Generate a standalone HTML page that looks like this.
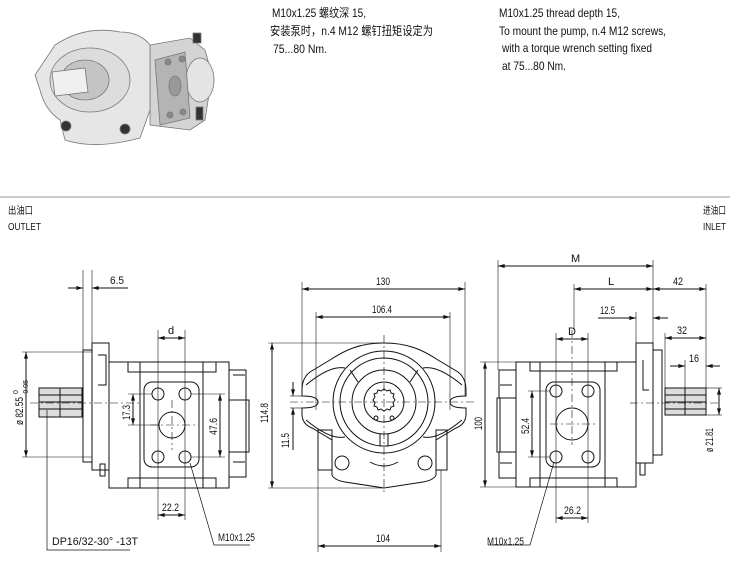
<!DOCTYPE html>
<html><head><meta charset="utf-8"><style>
html,body{margin:0;padding:0;background:#fff;}
svg{display:block;}
text{font-family:"Liberation Sans","Noto Sans CJK SC",sans-serif;fill:#111;}
</style></head><body>
<svg width="730" height="569" viewBox="0 0 730 569" xmlns="http://www.w3.org/2000/svg">
<defs>
<marker id="a" viewBox="0 0 10 6" refX="10" refY="3" markerWidth="8" markerHeight="4" orient="auto-start-reverse"><path d="M0,0 L10,3 L0,6z" fill="#111"/></marker>
</defs>

<!-- 3D pump image (approximation) -->
<g stroke="#777" stroke-width="0.8">
<path d="M150,45 L190,38 L205,50 L212,75 L205,120 L190,130 L150,125z" fill="#d4d4d4"/>
<ellipse cx="200" cy="80" rx="14" ry="22" fill="#e4e4e4"/>
<path d="M120,32 Q85,25 55,45 L35,75 L40,90 Q45,110 60,120 L65,140 Q95,150 140,138 L150,110 L150,45 Q140,32 120,32z" fill="#e6e6e6"/>
<ellipse cx="90" cy="80" rx="40" ry="32" fill="#dcdcdc"/>
<ellipse cx="85" cy="80" rx="24" ry="20" fill="#c4c4c4"/>
<path d="M52,72 L85,68 L88,92 L55,96z" fill="#f0f0f0"/>
<path d="M155,60 L185,52 L190,118 L160,125z" fill="#b4b4b4"/>
<circle cx="168" cy="62" r="3" fill="#888"/><circle cx="182" cy="59" r="3" fill="#888"/>
<circle cx="170" cy="115" r="3" fill="#888"/><circle cx="183" cy="112" r="3" fill="#888"/>
<ellipse cx="175" cy="86" rx="6" ry="10" fill="#999"/>
<circle cx="66" cy="126" r="5" fill="#333"/><circle cx="125" cy="129" r="5" fill="#333"/>
<rect x="193" y="33" width="8" height="10" fill="#333"/><rect x="196" y="107" width="7" height="13" fill="#333"/>
</g>

<!-- Top texts -->
<g font-size="12">
<text x="272" y="17" textLength="94" lengthAdjust="spacingAndGlyphs">M10x1.25 螺纹深 15,</text>
<text x="270" y="35" textLength="163" lengthAdjust="spacingAndGlyphs">安装泵时，n.4 M12 螺钉扭矩设定为</text>
<text x="273" y="53" textLength="54" lengthAdjust="spacingAndGlyphs">75...80 Nm.</text>
<text x="499" y="17" textLength="121" lengthAdjust="spacingAndGlyphs">M10x1.25 thread depth 15,</text>
<text x="499" y="35" textLength="167" lengthAdjust="spacingAndGlyphs">To mount the pump, n.4 M12 screws,</text>
<text x="502" y="52" textLength="150" lengthAdjust="spacingAndGlyphs">with a torque wrench setting fixed</text>
<text x="502" y="70" textLength="64" lengthAdjust="spacingAndGlyphs">at 75...80 Nm.</text>
</g>
<line x1="0" y1="197" x2="730" y2="197" stroke="#999" stroke-width="1"/>
<g font-size="10">
<text x="8" y="214" textLength="25" lengthAdjust="spacingAndGlyphs">出油口</text>
<text x="8" y="230" textLength="33" lengthAdjust="spacingAndGlyphs">OUTLET</text>
<text x="703" y="214" textLength="23" lengthAdjust="spacingAndGlyphs">进油口</text>
<text x="703" y="230" textLength="23" lengthAdjust="spacingAndGlyphs">INLET</text>
</g>

<g fill="none" stroke="#111" stroke-width="1">
<!-- ===== LEFT VIEW ===== -->
<rect x="92" y="343" width="17" height="127"/>
<rect x="83" y="350" width="9" height="112"/>
<path d="M98,355 h8 v30 h-8"/>
<rect x="109" y="362" width="120" height="126"/>
<rect x="128" y="362" width="88" height="10"/><rect x="128" y="478" width="88" height="10"/>
<line x1="140" y1="362" x2="140" y2="488"/><line x1="203" y1="362" x2="203" y2="488"/>
<rect x="100" y="464" width="5" height="12"/>
<rect x="39" y="388" width="43" height="29" fill="#ddd"/>
<line x1="39" y1="395" x2="82" y2="395"/><line x1="39" y1="402" x2="82" y2="402"/><line x1="39" y1="409" x2="82" y2="409"/>
<line x1="60" y1="388" x2="60" y2="417"/>
<rect x="144" y="382" width="55" height="85" rx="8"/>
<circle cx="158" cy="394" r="6"/><circle cx="185" cy="394" r="6"/>
<circle cx="158" cy="457" r="6"/><circle cx="185" cy="457" r="6"/>
<circle cx="172" cy="425" r="13"/>
<rect x="229" y="370" width="17" height="30"/><rect x="229" y="452" width="17" height="25"/>
<rect x="246" y="400" width="3" height="52"/>
<line x1="233" y1="375" x2="245" y2="375"/><line x1="233" y1="462" x2="245" y2="462"/>
<g stroke-dasharray="8,3,2,3" stroke-width="0.6">
<line x1="30" y1="403" x2="140" y2="403"/>
<line x1="150" y1="425" x2="195" y2="425"/><line x1="172" y1="400" x2="172" y2="450"/>
</g>
<line x1="83" y1="270" x2="83" y2="350" stroke-width="0.6"/><line x1="92" y1="270" x2="92" y2="343" stroke-width="0.6"/>
<line x1="68" y1="288" x2="83" y2="288" marker-end="url(#a)"/><line x1="128" y1="288" x2="92" y2="288" marker-end="url(#a)"/>
<line x1="22" y1="352" x2="92" y2="352" stroke-width="0.6"/><line x1="22" y1="457" x2="92" y2="457" stroke-width="0.6"/>
<line x1="26" y1="352" x2="26" y2="457" marker-start="url(#a)" marker-end="url(#a)"/>
<line x1="158" y1="330" x2="158" y2="520" stroke-width="0.6"/><line x1="185" y1="330" x2="185" y2="520" stroke-width="0.6"/>
<line x1="158" y1="338" x2="185" y2="338" marker-start="url(#a)" marker-end="url(#a)"/>
<line x1="158" y1="515" x2="185" y2="515" marker-start="url(#a)" marker-end="url(#a)"/>
<line x1="128" y1="394" x2="152" y2="394" stroke-width="0.6"/><line x1="128" y1="425" x2="159" y2="425" stroke-width="0.6"/>
<line x1="133" y1="394" x2="133" y2="425" marker-start="url(#a)" marker-end="url(#a)"/>
<line x1="191" y1="394" x2="225" y2="394" stroke-width="0.6"/><line x1="191" y1="457" x2="225" y2="457" stroke-width="0.6"/>
<line x1="220" y1="394" x2="220" y2="457" marker-start="url(#a)" marker-end="url(#a)"/>
<polyline points="47,410 47,550 130,550" stroke-width="0.7"/>
<polyline points="190,463 214,545 250,545" stroke-width="0.7"/>

<!-- ===== MIDDLE VIEW ===== -->
<path d="M384,343 C360,343 345,350 330,360 L310,372 Q302,378 302,390 L302,396 Q318,396 318,402 Q318,408 302,408 L302,414 Q302,424 312,428 L332,440 L332,475 Q334,480 345,482 L384,488 L423,482 Q434,480 436,475 L436,440 L456,428 Q466,424 466,414 L466,408 Q450,408 450,402 Q450,396 466,396 L466,390 Q466,378 458,372 L438,360 C423,350 408,343 384,343z"/>
<path d="M306,385 Q330,365 345,368"/><path d="M462,385 Q438,365 423,368"/>
<path d="M306,420 Q330,440 345,437"/><path d="M462,420 Q438,440 423,437"/>
<rect x="318" y="430" width="14" height="40"/><rect x="436" y="430" width="11" height="40"/>
<circle cx="384" cy="402" r="51"/><circle cx="384" cy="402" r="44"/>
<circle cx="384" cy="402" r="32"/><circle cx="384" cy="402" r="20"/>
<path d="M384,389 l3,2 3,-1 1,3 3,1 -1,3 2,3 -2,3 1,3 -3,1 -1,3 -3,-1 -3,2 -3,-2 -3,1 -1,-3 -3,-1 1,-3 -2,-3 2,-3 -1,-3 3,-1 1,-3 3,1z"/>
<circle cx="376" cy="418" r="2"/><circle cx="392" cy="418" r="2"/>
<path d="M380,434 v12 h8 v-12"/>
<path d="M350,370 L358,382"/><path d="M418,370 L410,382"/>
<circle cx="342" cy="463" r="7"/><circle cx="425" cy="463" r="7"/>
<path d="M370,462 Q384,470 398,462"/>
<g stroke-dasharray="8,3,2,3" stroke-width="0.6">
<line x1="290" y1="402" x2="475" y2="402"/><line x1="384" y1="335" x2="384" y2="492"/>
</g>
<line x1="302" y1="282" x2="302" y2="396" stroke-width="0.6"/><line x1="465" y1="282" x2="465" y2="396" stroke-width="0.6"/>
<line x1="302" y1="289" x2="465" y2="289" marker-start="url(#a)" marker-end="url(#a)"/>
<line x1="316" y1="312" x2="316" y2="410" stroke-width="0.6"/><line x1="450" y1="312" x2="450" y2="410" stroke-width="0.6"/>
<line x1="316" y1="317" x2="450" y2="317" marker-start="url(#a)" marker-end="url(#a)"/>
<line x1="268" y1="343" x2="384" y2="343" stroke-width="0.6"/><line x1="268" y1="488" x2="384" y2="488" stroke-width="0.6"/>
<line x1="272" y1="343" x2="272" y2="488" marker-start="url(#a)" marker-end="url(#a)"/>
<line x1="290" y1="396" x2="302" y2="396" stroke-width="0.6"/><line x1="290" y1="408" x2="302" y2="408" stroke-width="0.6"/>
<line x1="293" y1="382" x2="293" y2="396" marker-end="url(#a)"/><line x1="293" y1="450" x2="293" y2="408" marker-end="url(#a)"/>
<line x1="318" y1="470" x2="318" y2="552" stroke-width="0.6"/><line x1="441" y1="470" x2="441" y2="552" stroke-width="0.6"/>
<line x1="318" y1="546" x2="441" y2="546" marker-start="url(#a)" marker-end="url(#a)"/>

<!-- ===== RIGHT VIEW ===== -->
<rect x="516" y="362" width="120" height="125"/>
<rect x="530" y="362" width="87" height="9"/><rect x="530" y="478" width="87" height="9"/>
<line x1="540" y1="362" x2="540" y2="487"/><line x1="605" y1="362" x2="605" y2="487"/>
<rect x="636" y="343" width="17" height="120"/>
<rect x="653" y="350" width="9" height="105"/>
<path d="M643,360 v30 h6"/>
<rect x="640" y="463" width="5" height="12"/>
<rect x="665" y="388" width="41" height="27" fill="#ddd"/>
<line x1="665" y1="395" x2="706" y2="395"/><line x1="665" y1="402" x2="706" y2="402"/><line x1="665" y1="409" x2="706" y2="409"/>
<line x1="685" y1="388" x2="685" y2="415"/>
<rect x="546" y="382" width="54" height="85" rx="8"/>
<circle cx="556" cy="391" r="6"/><circle cx="588" cy="391" r="6"/>
<circle cx="556" cy="457" r="6"/><circle cx="588" cy="457" r="6"/>
<circle cx="572" cy="424" r="16"/>
<rect x="499" y="370" width="17" height="28"/><rect x="499" y="452" width="17" height="26"/>
<rect x="497" y="398" width="3" height="54"/>
<line x1="500" y1="385" x2="512" y2="385"/><line x1="500" y1="463" x2="512" y2="463"/>
<g stroke-dasharray="8,3,2,3" stroke-width="0.6">
<line x1="630" y1="403" x2="720" y2="403"/>
<line x1="550" y1="424" x2="595" y2="424"/><line x1="572" y1="330" x2="572" y2="445"/>
</g>
<line x1="498" y1="260" x2="498" y2="370" stroke-width="0.6"/><line x1="653" y1="260" x2="653" y2="343" stroke-width="0.6"/>
<line x1="498" y1="266" x2="653" y2="266" marker-start="url(#a)" marker-end="url(#a)"/>
<line x1="574" y1="284" x2="574" y2="330" stroke-width="0.6"/><line x1="706" y1="284" x2="706" y2="388" stroke-width="0.6"/>
<line x1="574" y1="289" x2="653" y2="289" marker-start="url(#a)" marker-end="url(#a)"/>
<line x1="653" y1="289" x2="706" y2="289" marker-start="url(#a)" marker-end="url(#a)"/>
<line x1="636" y1="312" x2="636" y2="343" stroke-width="0.6"/>
<line x1="598" y1="318" x2="636" y2="318" marker-end="url(#a)"/><line x1="668" y1="318" x2="653" y2="318" marker-end="url(#a)"/>
<line x1="665" y1="333" x2="665" y2="388" stroke-width="0.6"/>
<line x1="665" y1="338" x2="706" y2="338" marker-start="url(#a)" marker-end="url(#a)"/>
<line x1="685" y1="360" x2="685" y2="388" stroke-width="0.6"/>
<line x1="670" y1="366" x2="685" y2="366" marker-end="url(#a)"/><line x1="720" y1="366" x2="706" y2="366" marker-end="url(#a)"/>
<line x1="556" y1="333" x2="556" y2="523" stroke-width="0.6"/><line x1="588" y1="333" x2="588" y2="523" stroke-width="0.6"/>
<line x1="556" y1="339" x2="588" y2="339" marker-start="url(#a)" marker-end="url(#a)"/>
<line x1="556" y1="518" x2="588" y2="518" marker-start="url(#a)" marker-end="url(#a)"/>
<line x1="480" y1="362" x2="516" y2="362" stroke-width="0.6"/><line x1="480" y1="487" x2="516" y2="487" stroke-width="0.6"/>
<line x1="485" y1="362" x2="485" y2="487" marker-start="url(#a)" marker-end="url(#a)"/>
<line x1="528" y1="391" x2="550" y2="391" stroke-width="0.6"/><line x1="528" y1="457" x2="550" y2="457" stroke-width="0.6"/>
<line x1="532" y1="391" x2="532" y2="457" marker-start="url(#a)" marker-end="url(#a)"/>
<line x1="706" y1="388" x2="722" y2="388" stroke-width="0.6"/><line x1="706" y1="415" x2="722" y2="415" stroke-width="0.6"/>
<line x1="719" y1="388" x2="719" y2="415" marker-start="url(#a)" marker-end="url(#a)"/>
<polyline points="554,462 530,545 488,545" stroke-width="0.7"/>
</g>

<!-- dimension texts -->
<g font-size="11">
<text x="110" y="284" textLength="14" lengthAdjust="spacingAndGlyphs">6.5</text>
<text x="168" y="334">d</text>
<text x="162" y="511" textLength="17" lengthAdjust="spacingAndGlyphs">22.2</text>
<text x="52" y="545" textLength="86" lengthAdjust="spacingAndGlyphs">DP16/32-30°  -13T</text>
<text x="218" y="541" textLength="37" lengthAdjust="spacingAndGlyphs">M10x1.25</text>
<text transform="translate(130,420) rotate(-90)" textLength="15" lengthAdjust="spacingAndGlyphs">17.3</text>
<text transform="translate(217,435) rotate(-90)" textLength="17" lengthAdjust="spacingAndGlyphs">47.6</text>
<text transform="translate(23,425) rotate(-90)" textLength="28" lengthAdjust="spacingAndGlyphs">ø 82.55</text>
<text transform="translate(18,394) rotate(-90)" font-size="7">0</text>
<text transform="translate(28,396) rotate(-90)" font-size="7" textLength="16" lengthAdjust="spacingAndGlyphs">-0.05</text>
<text x="376" y="285" textLength="14" lengthAdjust="spacingAndGlyphs">130</text>
<text x="372" y="313" textLength="20" lengthAdjust="spacingAndGlyphs">106.4</text>
<text x="376" y="542" textLength="14" lengthAdjust="spacingAndGlyphs">104</text>
<text transform="translate(268,423) rotate(-90)" textLength="20" lengthAdjust="spacingAndGlyphs">114.8</text>
<text transform="translate(289,448) rotate(-90)" textLength="15" lengthAdjust="spacingAndGlyphs">11.5</text>
<text x="571" y="262">M</text>
<text x="608" y="285">L</text>
<text x="673" y="285" textLength="10" lengthAdjust="spacingAndGlyphs">42</text>
<text x="600" y="314" textLength="15" lengthAdjust="spacingAndGlyphs">12.5</text>
<text x="677" y="334" textLength="10" lengthAdjust="spacingAndGlyphs">32</text>
<text x="689" y="362" textLength="10" lengthAdjust="spacingAndGlyphs">16</text>
<text x="568" y="335">D</text>
<text x="564" y="514" textLength="17" lengthAdjust="spacingAndGlyphs">26.2</text>
<text x="487" y="545" textLength="37" lengthAdjust="spacingAndGlyphs">M10x1.25</text>
<text transform="translate(482,430) rotate(-90)" textLength="13" lengthAdjust="spacingAndGlyphs">100</text>
<text transform="translate(529,434) rotate(-90)" textLength="16" lengthAdjust="spacingAndGlyphs">52.4</text>
<text transform="translate(713,452) rotate(-90)" textLength="24" lengthAdjust="spacingAndGlyphs">ø 21.81</text>
</g>
</svg>
</body></html>
